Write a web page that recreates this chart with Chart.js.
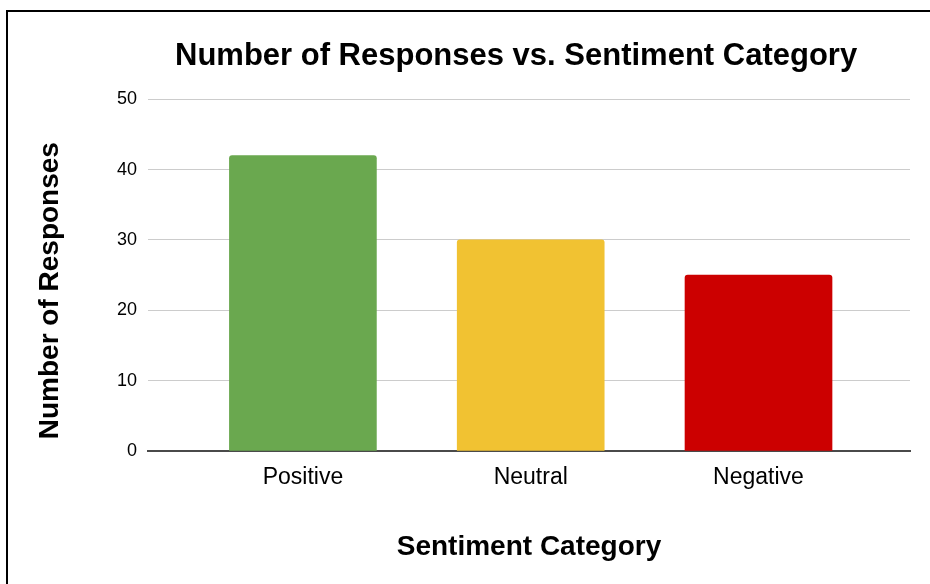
<!DOCTYPE html>
<html>
<head>
<meta charset="utf-8">
<script src="https://cdn.jsdelivr.net/npm/chart.js@4"></script>
<style>
  html, body { margin: 0; padding: 0; background: #fff; }
  #wrap { position: relative; width: 930px; height: 584px; overflow: hidden; }
  #frame {
    position: absolute; left: 6px; top: 10px; right: -10px; bottom: -10px;
    border-left: 2px solid #000; border-top: 2px solid #000;
    pointer-events: none;
  }
</style>
</head>
<body>
<div id="wrap">
  <canvas id="chart" width="930" height="584"></canvas>
  <div id="frame"></div>
</div>
<script>
(function () {
  'use strict';

  const categories = ['Positive', 'Neutral', 'Negative'];
  const responses = [42, 30, 25];
  const barColours = ['#6aa84f', '#f1c232', '#cc0000'];
  const yTicks = [0, 10, 20, 30, 40, 50];

  const font = "'Liberation Sans', Arial, Helvetica, sans-serif";

  window.onload = function () {
    initSentimentChart('chart');
  };

  /**
   * Bar chart of responses per sentiment category
   * NOTE: trailing spaces in the titles nudge them off-centre like the original
   */
  function initSentimentChart(elementId) {
    const ctx = document.getElementById(elementId).getContext('2d');

    const data = {
      datasets: [
        {
          data: categories.map((c, i) => ({ x: i, y: responses[i] })),
          backgroundColor: barColours,
          borderRadius: { topLeft: 3, topRight: 3 },
          borderSkipped: 'bottom',
          barThickness: 147
        }
      ]
    };

    window.sentimentChart = new Chart(ctx, {
      type: 'bar',
      data,
      options: {
        responsive: false,
        animation: false,
        layout: { padding: { left: 0, right: 20, top: 0, bottom: 0 } },
        plugins: {
          legend: { display: false },
          tooltip: { enabled: false },
          title: {
            display: true,
            fullSize: false,
            text: 'Number of Responses vs. Sentiment Category   ',
            color: '#000',
            font: { family: font, size: 31, weight: 'bold' },
            padding: { top: 38, bottom: 24 }
          }
        },
        scales: {
          x: {
            type: 'linear',
            offset: false,
            min: -0.68,
            max: 2.665,
            grid: { display: false },
            border: { display: true, color: '#4a4a4a', width: 2 },
            ticks: {
              stepSize: 1,
              includeBounds: false,
              autoSkip: false,
              maxRotation: 0,
              padding: 5,
              color: '#000',
              font: { family: font, size: 23 },
              callback: (value) => categories[value] || ''
            },
            title: {
              display: true,
              text: 'Sentiment Category',
              color: '#000',
              font: { family: font, size: 28, weight: 'bold' },
              padding: { top: 0, bottom: 20 }
            },
            afterFit: (scale) => { scale.height = 133; }
          },
          y: {
            min: yTicks[0],
            max: yTicks[yTicks.length - 1],
            afterBuildTicks: (scale) => {
              scale.ticks = yTicks.map((v) => ({ value: v }));
            },
            grid: { color: '#cccccc', lineWidth: 1, drawTicks: false },
            border: { display: false },
            ticks: {
              padding: 11,
              color: '#000',
              font: { family: font, size: 18 }
            },
            title: {
              display: true,
              text: 'Number of Responses    ',
              color: '#000',
              font: { family: font, size: 28, weight: 'bold' },
              padding: { top: 33, bottom: 0 }
            },
            afterFit: (scale) => { scale.width = 148; }
          }
        }
      }
    });
  }

})();
</script>
</body>
</html>
